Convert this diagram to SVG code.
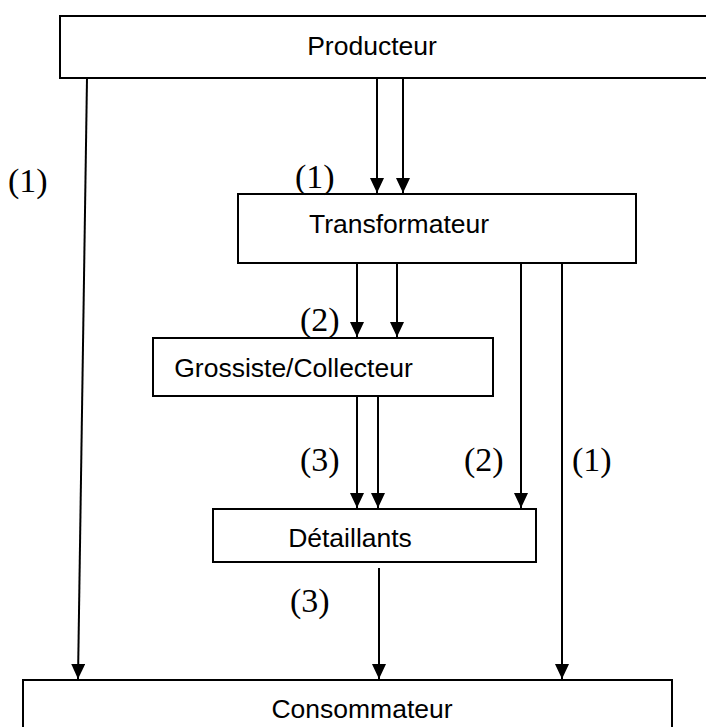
<svg xmlns="http://www.w3.org/2000/svg" width="706" height="727" viewBox="0 0 706 727">
<style>
  .box { fill: #ffffff; stroke: #000000; stroke-width: 2; }
  .lbl { font-family: "Liberation Sans", Arial, sans-serif; font-size: 26.5px; fill: #000000; text-anchor: middle; }
  .num { font-family: "Liberation Serif", "Times New Roman", serif; font-size: 34px; fill: #000000; }
  .edge { stroke: #000000; stroke-width: 2; fill: none; marker-end: url(#arrow); }
</style>
<defs>
  <marker id="arrow" markerUnits="userSpaceOnUse" markerWidth="15" markerHeight="14" refX="15" refY="7" orient="auto">
    <path d="M0,0 L15,7 L0,14 z" fill="#000000"/>
  </marker>
</defs>
<rect x="0" y="0" width="706" height="727" fill="#ffffff"/>

<g id="producteur">
  <rect class="box" x="60" y="16" width="660" height="62"/>
  <text class="lbl" x="372" y="55">Producteur</text>
</g>
<g id="transformateur">
  <rect class="box" x="238" y="194" width="398" height="69"/>
  <text class="lbl" x="399" y="233">Transformateur</text>
</g>
<g id="grossiste">
  <rect class="box" x="153" y="338" width="340" height="58"/>
  <text class="lbl" x="293.5" y="377">Grossiste/Collecteur</text>
</g>
<g id="detaillants">
  <rect class="box" x="213" y="509" width="323" height="53"/>
  <text class="lbl" x="350" y="547">Détaillants</text>
</g>
<g id="consommateur">
  <rect class="box" x="23" y="680" width="649" height="80"/>
  <text class="lbl" x="362" y="718">Consommateur</text>
</g>

<g id="connectors">
  <line class="edge" x1="87" y1="78" x2="78" y2="679"/>
  <line class="edge" x1="377" y1="78" x2="377" y2="193"/>
  <line class="edge" x1="403" y1="78" x2="403" y2="193"/>
  <line class="edge" x1="357" y1="263" x2="357" y2="337"/>
  <line class="edge" x1="397" y1="263" x2="397" y2="337"/>
  <line class="edge" x1="521" y1="263" x2="521" y2="508"/>
  <line class="edge" x1="562" y1="263" x2="562" y2="679"/>
  <line class="edge" x1="357" y1="396" x2="357" y2="508"/>
  <line class="edge" x1="378" y1="396" x2="378" y2="508"/>
  <line class="edge" x1="379" y1="568" x2="379" y2="679"/>
</g>

<g id="labels">
  <text class="num" x="8" y="192">(1)</text>
  <text class="num" x="295" y="188">(1)</text>
  <text class="num" x="300" y="331">(2)</text>
  <text class="num" x="300" y="471">(3)</text>
  <text class="num" x="464" y="471">(2)</text>
  <text class="num" x="572" y="471">(1)</text>
  <text class="num" x="290" y="612">(3)</text>
</g>
</svg>
